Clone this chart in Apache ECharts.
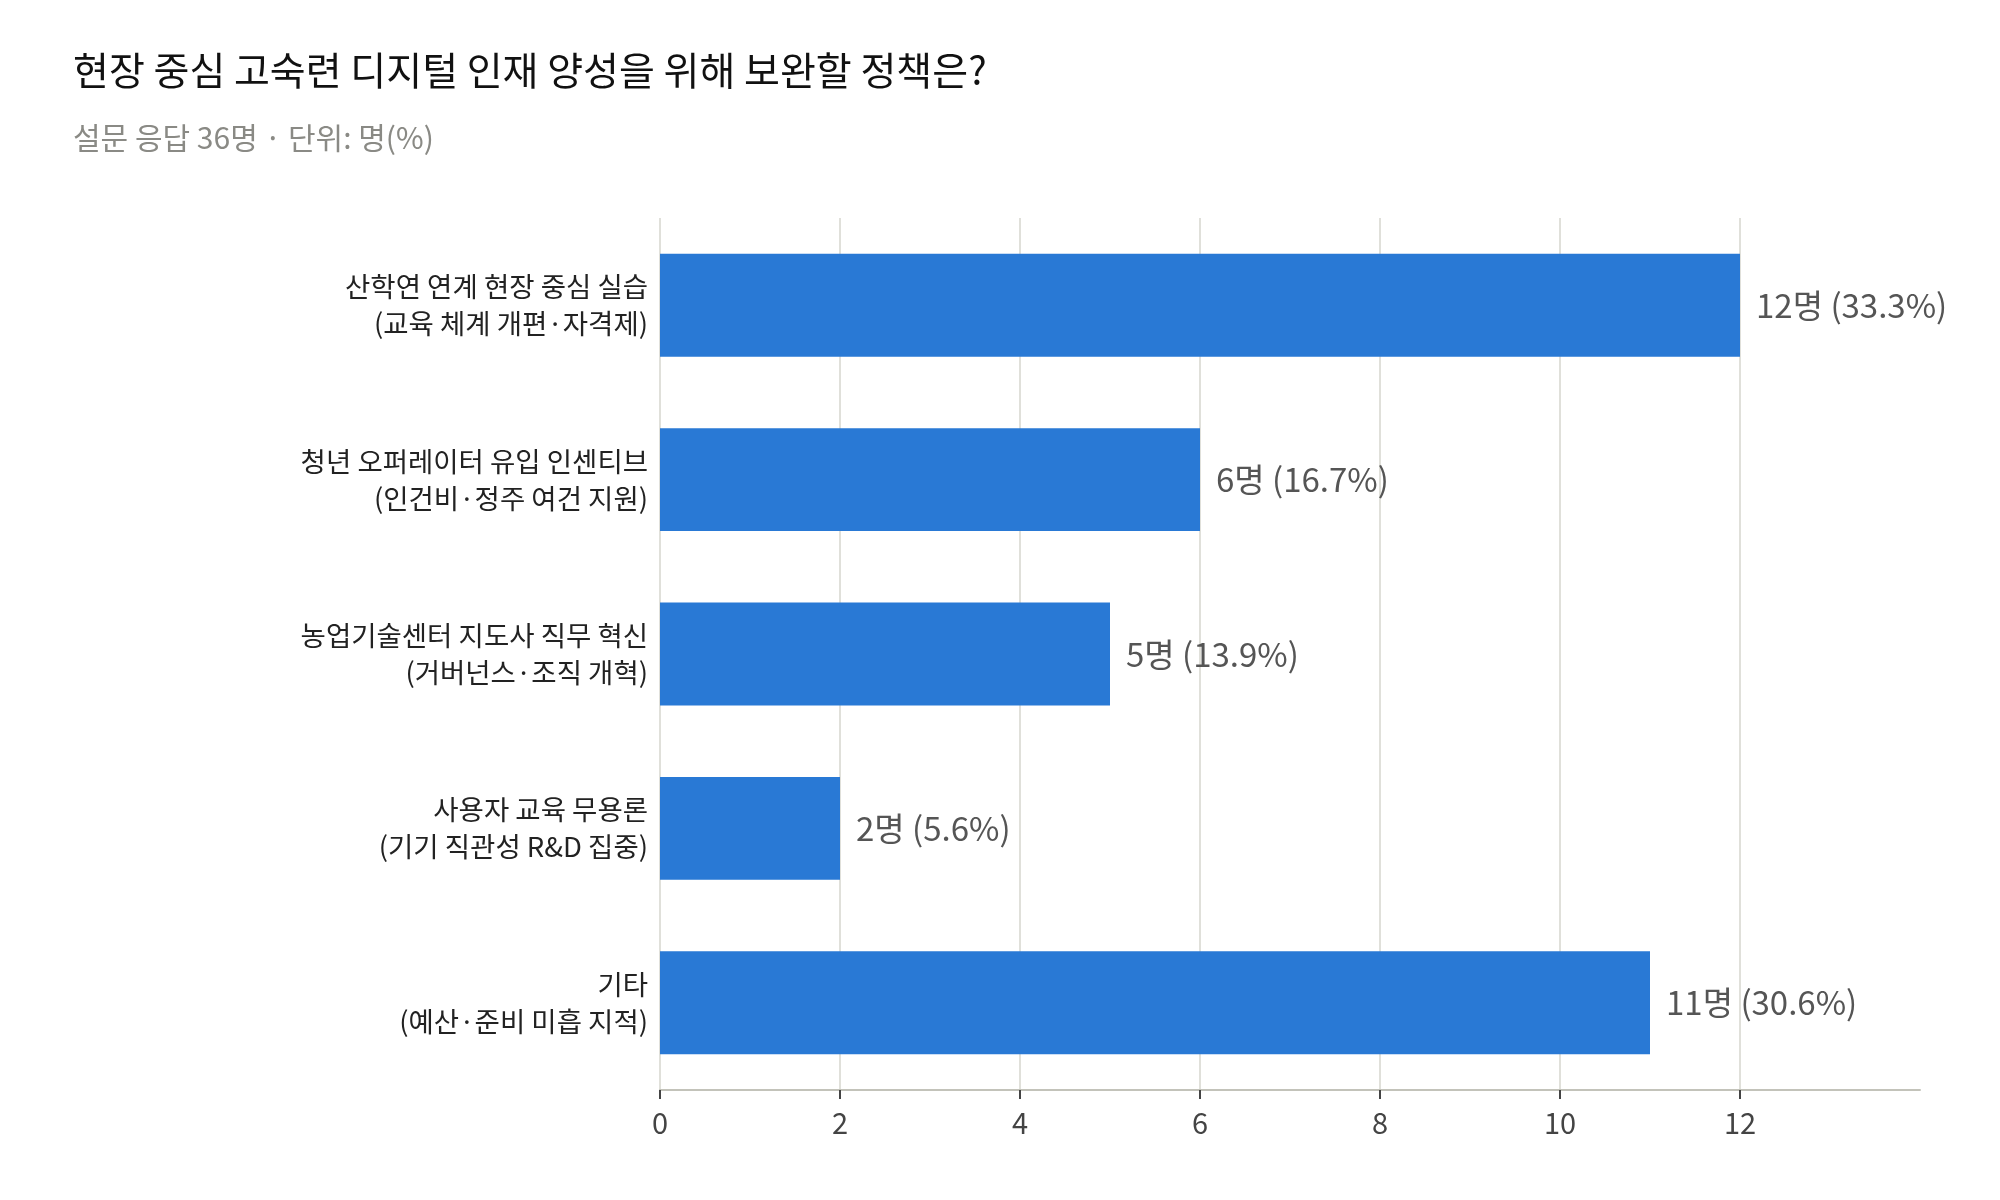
<!DOCTYPE html>
<html>
<head>
<meta charset="utf-8">
<title>현장 중심 고숙련 디지털 인재 양성</title>
<script src="https://cdn.jsdelivr.net/npm/echarts@6/dist/echarts.min.js"></script>
<style>
    html, body { margin: 0; padding: 0; background: #fff; }
    #main { width: 2000px; height: 1200px; }
</style>
</head>
<body>
<div id="main"></div>
<script>
// 응답 항목
var categories = [
    "산학연 연계 현장 중심 실습\n(교육 체계 개편·자격제)",
    "청년 오퍼레이터 유입 인센티브\n(인건비·정주 여건 지원)",
    "농업기술센터 지도사 직무 혁신\n(거버넌스·조직 개혁)",
    "사용자 교육 무용론\n(기기 직관성 R&D 집중)",
    "기타\n(예산·준비 미흡 지적)"
];
// 응답 수 (명)
var counts = [12, 6, 5, 2, 11];
// 비율 (%)
var percents = ["33.3", "16.7", "13.9", "5.6", "30.6"];
// x축 눈금
var xTicks = [0, 2, 4, 6, 8, 10, 12];

var fontName = "Noto Sans CJK KR";
var chart = echarts.init(document.getElementById("main"));

chart.setOption({
    backgroundColor: "#ffffff",
    animation: false,
    textStyle: { fontFamily: fontName },
    title: [{
        text: "현장 중심 고숙련 디지털 인재 양성을 위해 보완할 정책은?",
        left: 68,
        top: 45,
        textStyle: { fontFamily: fontName, fontSize: 39, fontWeight: 400, color: "#111111", lineHeight: 40 }
    }, {
        text: "설문 응답 36명 · 단위: 명(%)",
        left: 68,
        top: 117,
        textStyle: { fontFamily: fontName, fontSize: 30, fontWeight: 400, color: "#8a8a85", lineHeight: 32 }
    }],
    grid: {
        left: 660,
        right: 80,
        top: 218,
        bottom: 110,
        containLabel: false
    },
    xAxis: {
        type: "value",
        min: 0,
        max: 14,
        interval: 2,
        axisLine: { show: true, lineStyle: { color: "#c3c3ba", width: 2 } },
        axisTick: { show: true, length: 9, customValues: xTicks, lineStyle: { color: "#444444", width: 2 } },
        axisLabel: { customValues: xTicks, fontSize: 29, color: "#444444", margin: 18, fontFamily: fontName },
        splitLine: {
            show: true,
            lineStyle: {
                // 마지막(14) 격자선은 숨김
                color: ["#e0e0da", "#e0e0da", "#e0e0da", "#e0e0da", "#e0e0da", "#e0e0da", "#e0e0da", "rgba(0,0,0,0)"],
                width: 2
            }
        }
    },
    yAxis: {
        type: "category",
        inverse: true,
        data: categories,
        axisLine: { show: false },
        axisTick: { show: false },
        axisLabel: {
            fontSize: 27.5,
            lineHeight: 37,
            color: "#222222",
            margin: 12,
            padding: [8, 0, 0, 0],
            align: "right",
            fontFamily: fontName
        }
    },
    series: [{
        type: "bar",
        data: counts,
        barCategoryGap: "41%",
        itemStyle: { color: "#2979d5" },
        label: {
            show: true,
            position: "right",
            distance: 16,
            fontSize: 33,
            color: "#555555",
            fontFamily: fontName,
            formatter: function (params) {
                return params.value + "명 (" + percents[params.dataIndex] + "%)";
            }
        }
    }]
});
</script>
</body>
</html>
